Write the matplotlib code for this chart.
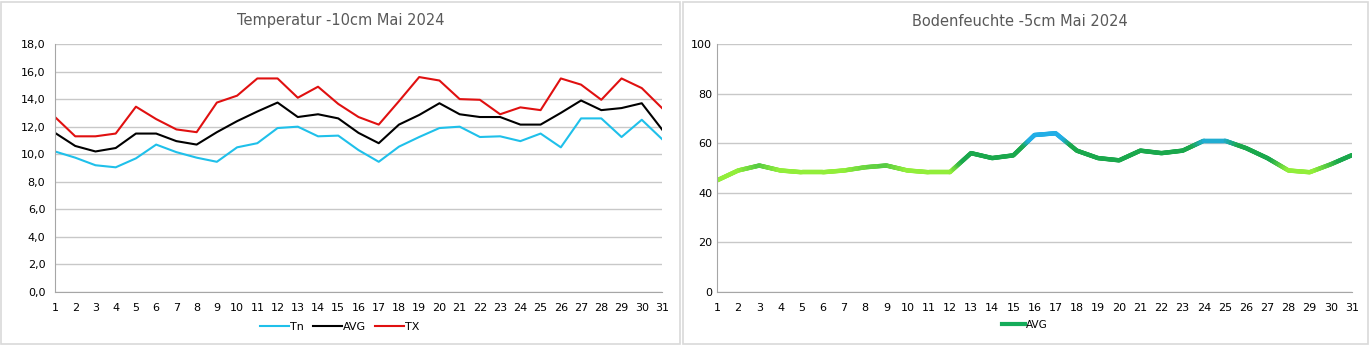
import numpy as np
import matplotlib
matplotlib.use("Agg")
import matplotlib.pyplot as plt
from matplotlib.collections import LineCollection
from matplotlib.colors import LinearSegmentedColormap, Normalize
from matplotlib.patches import Rectangle
from matplotlib.ticker import FuncFormatter

days = list(range(1, 32))

# Bodentemperatur -10cm, Mai 2024
tn = [10.2, 9.75, 9.2, 9.05, 9.7, 10.7, 10.15, 9.75, 9.45, 10.5, 10.8, 11.9, 12.0, 11.3, 11.35, 10.3,
      9.45, 10.55, 11.25, 11.9, 12.0, 11.25, 11.3, 10.95, 11.5, 10.5, 12.6, 12.6, 11.25, 12.5, 11.1]
avg = [11.55, 10.6, 10.2, 10.45, 11.5, 11.5, 10.95, 10.7, 11.6, 12.4, 13.1, 13.75, 12.7, 12.9, 12.6, 11.55,
       10.8, 12.15, 12.85, 13.7, 12.9, 12.7, 12.7, 12.15, 12.15, 13.0, 13.9, 13.2, 13.35, 13.7, 11.8]
tx = [12.7, 11.3, 11.3, 11.5, 13.45, 12.55, 11.8, 11.6, 13.75, 14.25, 15.5, 15.5, 14.1, 14.9, 13.65, 12.7,
      12.15, 13.85, 15.6, 15.35, 14.0, 13.95, 12.9, 13.4, 13.2, 15.5, 15.05, 13.95, 15.5, 14.8, 13.35]

# Bodenfeuchte -5cm, Mai 2024
moist = [45, 49, 51, 49, 48.3, 48.3, 49, 50.3, 51, 49, 48.3, 48.3, 56, 54, 55.1, 63.3,
         64, 57, 54, 53.1, 57, 56, 57, 61, 61, 58, 54, 49, 48.3, 51.5, 55.2]

W, H = 1370, 345
fig = plt.figure(figsize=(W / 100, H / 100), dpi=100)
fig.patch.set_facecolor("white")

border = "#d9d9d9"
grid = "#c8c8c8"
title_col = "#595959"

# panel frames
for x0, x1 in [(1, 680), (683, 1368)]:
    fig.add_artist(Rectangle((x0 / W, 1 / H), (x1 - x0) / W, (H - 3) / H, transform=fig.transFigure,
                             fill=False, edgecolor=border, linewidth=1.2))


def style_axes(ax, ymax, step, fmt, ypad):
    ax.set_xlim(1, 31)
    ax.set_ylim(0, ymax)
    ax.set_xticks(days)
    ax.set_yticks(np.arange(0, ymax + step / 2, step))
    ax.yaxis.set_major_formatter(FuncFormatter(fmt))
    ax.grid(axis="y", color=grid, linewidth=1)
    ax.set_axisbelow(True)
    for s in ["top", "right"]:
        ax.spines[s].set_visible(False)
    ax.spines["left"].set_color("#a6a6a6")
    ax.spines["bottom"].set_color("#a6a6a6")
    ax.tick_params(length=0, labelsize=8, colors="black")
    ax.tick_params(axis="x", pad=8)
    ax.tick_params(axis="y", pad=ypad)


ax1 = fig.add_axes([55 / W, 1 - 292 / H, 607 / W, 248 / H])
style_axes(ax1, 18, 2, lambda v, p: f"{v:.1f}".replace(".", ","), 7)
ax1.plot(days, tn, color="#1fc0ea", linewidth=1.5, label="Tn")
ax1.plot(days, avg, color="black", linewidth=1.5, label="AVG")
ax1.plot(days, tx, color="#e01010", linewidth=1.5, label="TX")
fig.text(341 / W, 1 - 21 / H, "Temperatur -10cm Mai 2024", ha="center", va="center",
         fontsize=10.5, color=title_col)
ax1.legend(loc="center", bbox_to_anchor=(340 / W, 1 - 327 / H), bbox_transform=fig.transFigure,
           ncol=3, frameon=False, fontsize=8, handlelength=2.6, handletextpad=0.1, columnspacing=0.8)

ax2 = fig.add_axes([717 / W, 1 - 292 / H, 635 / W, 248 / H])
style_axes(ax2, 100, 20, lambda v, p: f"{v:.0f}", 3.5)

# line colour follows the value: light green low, green mid, blue high
cmap = LinearSegmentedColormap.from_list(
    "moist", [(0.0, "#92ee3a"), (0.49, "#92ee3a"), (0.53, "#1aa84c"),
              (0.59, "#1aa84c"), (0.615, "#22aee6"), (1.0, "#22aee6")])
xs, ys = [], []
for i in range(len(days) - 1):
    t = np.linspace(0, 1, 25)
    xs.extend(days[i] + t * (days[i + 1] - days[i]))
    ys.extend(moist[i] + t * (moist[i + 1] - moist[i]))
xs, ys = np.array(xs), np.array(ys)
pts = np.column_stack([xs, ys]).reshape(-1, 1, 2)
segs = np.concatenate([pts[:-1], pts[1:]], axis=1)
lc = LineCollection(segs, cmap=cmap, norm=Normalize(0, 100), linewidth=3.2, capstyle="round",
                    joinstyle="round")
lc.set_array((ys[:-1] + ys[1:]) / 2)
ax2.add_collection(lc)
ax2.plot([], [], color="#14ac5a", linewidth=3, label="AVG")
fig.text(1020 / W, 1 - 21 / H, "Bodenfeuchte -5cm Mai 2024", ha="center", va="center",
         fontsize=10.5, color=title_col)
ax2.legend(loc="center", bbox_to_anchor=(1025 / W, 1 - 325 / H), bbox_transform=fig.transFigure,
           frameon=False, fontsize=7.5, handlelength=2.2, handletextpad=0.1)

fig.savefig("out.png", dpi=100)
